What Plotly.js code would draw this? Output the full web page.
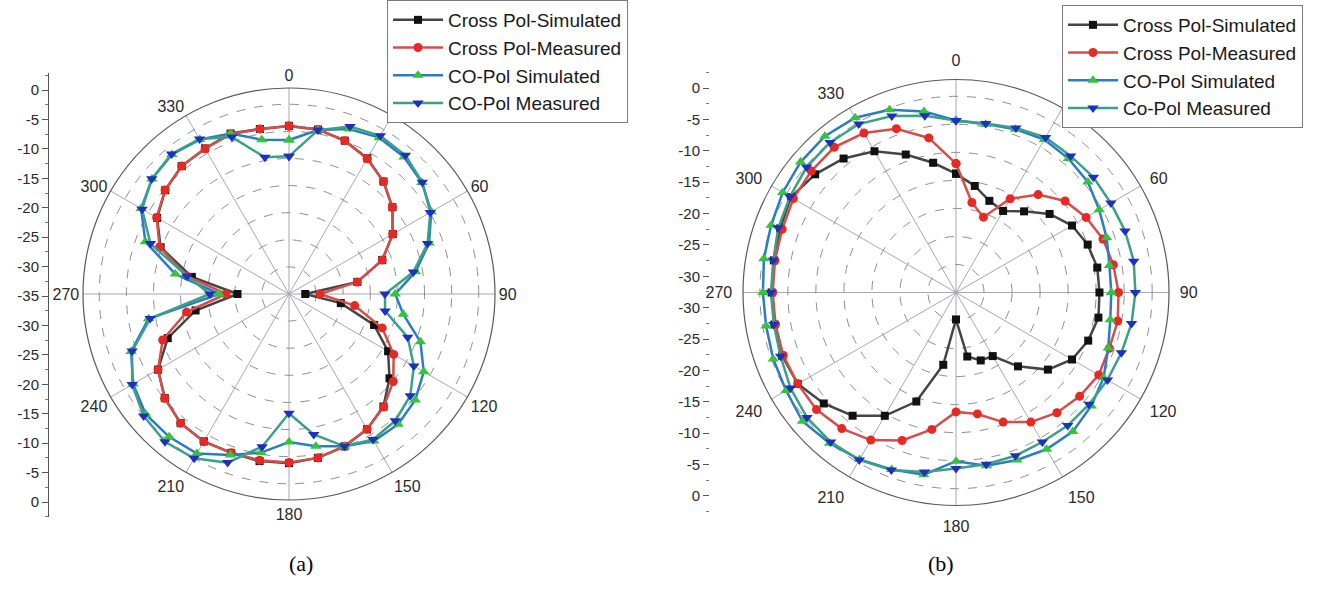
<!DOCTYPE html>
<html>
<head>
<meta charset="utf-8">
<script src="https://cdn.plot.ly/plotly-3.0.1.min.js"></script>
<style>html,body{margin:0;padding:0;background:#fff;}#chart{width:1317px;height:592px;}</style>
</head>
<body>
<div id="chart"></div>
<script>
// ---------- data ----------
const angles = [0,10,20,30,40,50,60,70,80,90,100,110,120,130,140,150,160,170,180,190,200,210,220,230,240,250,260,270,280,290,300,310,320,330,340,350];
const angleTicks = [0,30,60,90,120,150,180,210,240,270,300,330];

const namesA = ["Cross Pol-Simulated","Cross Pol-Measured","CO-Pol Simulated","CO-Pol Measured"];
const namesB = ["Cross Pol-Simulated","Cross Pol-Measured","CO-Pol Simulated","Co-Pol Measured"];

// (a)
const aCrossSim  = [-4.0,-4.2,-4.9,-6.1,-7.9,-10.1,-12.9,-16.7,-22.2,-32.0,-25.3,-18.3,-13.9,-10.8,-7.9,-6.2,-5.1,-4.3,-3.8,-3.7,-3.8,-3.6,-3.9,-5.1,-7.1,-11.2,-17.5,-25.5,-16.8,-9.8,-6.9,-5.2,-4.2,-4.0,-3.5,-4.1];
const aCrossMeas = [-4.0,-4.2,-4.9,-6.2,-7.9,-10.1,-12.9,-16.7,-22.2,-29.3,-22.7,-16.7,-12.7,-9.9,-7.8,-6.2,-5.1,-4.3,-3.9,-3.85,-3.85,-3.55,-3.9,-5.05,-7.1,-10.2,-15.8,-23.4,-15.8,-9.6,-6.8,-5.15,-4.2,-4.05,-3.6,-4.1];
const aCoSim     = [-6.6,-4.3,-2.6,-1.7,-2.0,-3.0,-4.7,-7.5,-11.3,-15.4,-13.6,-9.2,-6.3,-4.6,-3.65,-3.7,-5.1,-6.5,-7.7,-5.3,-3.4,-1.0,-0.6,-0.5,-1.8,-4.0,-8.7,-22.1,-13.7,-6.8,-3.5,-2.0,-1.4,-2.1,-3.5,-6.1];
const aCoMeas    = [-9.6,-4.3,-2.1,-1.3,-1.6,-2.9,-4.9,-7.8,-11.7,-17.3,-17.0,-11.7,-8.4,-5.8,-4.5,-4.0,-5.1,-8.7,-13.0,-6.4,-1.9,0.0,0.6,0.0,-1.6,-4.2,-9.0,-20.4,-15.9,-7.8,-3.7,-1.95,-1.3,-2.0,-4.2,-9.4];

// (b)
const bCrossSim  = [-13.8,-15.7,-17.6,-18.2,-16.1,-13.2,-11.1,-10.0,-9.4,-9.4,-9.2,-9.9,-11.1,-13.6,-17.8,-21.9,-22.1,-23.4,-30.2,-21.9,-14.3,-9.6,-6.3,-4.2,-2.4,-2.0,-2.1,-2.1,-2.0,-1.6,-1.0,-2.2,-3.8,-5.9,-8.8,-11.5];
const bCrossMeas = [-12.0,-18.7,-20.7,-15.7,-12.2,-9.6,-8.2,-7.1,-6.5,-6.0,-5.7,-5.9,-5.6,-6.2,-7.0,-8.3,-10.4,-13.0,-13.7,-10.2,-6.9,-4.6,-3.3,-2.5,-2.4,-2.2,-2.3,-2.3,-2.2,-2.0,-1.5,-1.3,-1.2,-2.15,-3.9,-7.0];
const bCoSim     = [-4.3,-4.5,-4.0,-3.5,-3.8,-4.3,-5.5,-6.4,-7.2,-7.3,-7.05,-6.1,-4.6,-3.5,-2.6,-2.7,-3.2,-3.6,-4.9,-2.0,-1.4,-0.6,0.1,0.75,0.0,-0.3,-0.6,-0.55,-0.2,0.1,0.7,1.2,1.4,1.0,-0.3,-2.2];
const bCoMeas    = [-4.3,-4.4,-3.75,-3.05,-3.2,-3.0,-3.1,-2.9,-2.8,-3.0,-3.2,-3.6,-3.8,-4.0,-4.0,-4.2,-4.0,-3.9,-3.6,-2.5,-1.3,-0.5,-0.2,-0.3,-0.9,-1.7,-2.0,-2.0,-1.9,-1.25,-0.8,-0.2,-0.05,-0.3,-1.5,-3.0];

// radial scale labels drawn along the left of each plot (top to bottom)
const scaleLabelsA = [0,-5,-10,-15,-20,-25,-30,-35,-30,-25,-20,-15,-10,-5,0];
const scaleLabelsB = [0,-5,-10,-15,-20,-25,-30,-30,-25,-20,-15,-10,-5,0];

// ---------- styles ----------
const styles = [
  {line:'#454545', marker:'#111111', symbol:'square', size:8},
  {line:'#d2504b', marker:'#e52a25', symbol:'circle', size:9},
  {line:'#2c7cc2', marker:'#33c43c', symbol:'triangle-up', size:10},
  {line:'#3aa088', marker:'#1f30ba', symbol:'triangle-down', size:10}
];

const W = 1317, H = 592;
const FONT = 'Arial, "Liberation Sans", sans-serif';

function closeLoop(a){ return a.concat([a[0]]); }
const thetaClosed = closeLoop(angles).map((v,i,arr)=> i===arr.length-1 ? 360 : v);

function makeTraces(seriesList, names, subplot, legend){
  return seriesList.map((r,i)=>({
    type:'scatterpolar', mode:'lines+markers',
    r: closeLoop(r), theta: thetaClosed,
    name: names[i], subplot: subplot, legend: legend, legendgroup: legend+'_'+i,
    line:{color:styles[i].line, width:2.5},
    marker:{color:styles[i].marker, symbol:styles[i].symbol, size:styles[i].size, line:{width:0}},
    hoverinfo:'skip'
  }));
}

const traces = [].concat(
  makeTraces([aCrossSim,aCrossMeas,aCoSim,aCoMeas], namesA, 'polar', 'legend'),
  makeTraces([bCrossSim,bCrossMeas,bCoSim,bCoMeas], namesB, 'polar2', 'legend2'),
  [{type:'scatter', x:[], y:[], xaxis:'x', yaxis:'y', showlegend:false, hoverinfo:'skip'},
   {type:'scatter', x:[], y:[], xaxis:'x', yaxis:'y2', showlegend:false, hoverinfo:'skip'}]
);

// polar domain from centre/radius in px
function domainFor(cx, cy, r){
  return {x:[(cx-r)/W,(cx+r)/W], y:[(H-(cy+r))/H,(H-(cy-r))/H]};
}
function polarLayout(dom, tlen){
  return {
    domain: dom, bgcolor:'#ffffff',
    angularaxis:{rotation:90, direction:'clockwise', tickmode:'array', tickvals:angleTicks,
      ticktext:angleTicks.map(String),
      tickfont:{family:FONT, size:16, color:'#2a2a2a'},
      ticks:tlen>0?'outside':'', ticklen:tlen, tickcolor:'rgba(0,0,0,0)',
      showline:true, linecolor:'#5a5a5a', linewidth:1.2,
      showgrid:true, gridcolor:'#a8a8b0', gridwidth:1},
    radialaxis:{range:[-35,3], tickmode:'linear', tick0:-35, dtick:5, showticklabels:false, ticks:'',
      showline:false, showgrid:true, gridcolor:'#8e8e98', gridwidth:1, griddash:'dash'}
  };
}

function scaleAxis(labels, pos, topPx, botPx, firstPx, stepPx, showline){
  const lo = (topPx-firstPx)/stepPx, hi = (botPx-firstPx)/stepPx;
  return {
    anchor:'free', position:pos, side:'left', domain:[(H-botPx)/H,(H-topPx)/H],
    range:[hi, lo], tickmode:'array', tickvals:labels.map((_,i)=>i), ticktext:labels.map(String),
    ticks:'outside', ticklen:6, tickcolor:'#555', tickwidth:1,
    minor:{tickmode:'linear', tick0:-0.5, dtick:1, ticks:'outside', ticklen:3, tickcolor:'#777', showgrid:false},
    showline:showline, linecolor:'#555', linewidth:1,
    showgrid:false, zeroline:false, fixedrange:true,
    tickfont:{family:FONT, size:15, color:'#2a2a2a'}
  };
}

const legendCommon = {
  xanchor:'left', yanchor:'top', bgcolor:'#ffffff', bordercolor:'#7a7a7a', borderwidth:1,
  font:{family:FONT, size:19, color:'#1a1a1a'}, tracegroupgap:0, itemwidth:50,
  traceorder:'normal'
};

const layout = {
  width:W, height:H, margin:{l:0,r:0,t:0,b:0},
  paper_bgcolor:'#ffffff', plot_bgcolor:'rgba(0,0,0,0)',
  font:{family:FONT, color:'#222'},
  showlegend:true,
  polar: polarLayout(domainFor(289, 294, 206), 0),
  polar2: polarLayout(domainFor(956, 292.5, 213), 7),
  xaxis:{domain:[0,0.005], visible:false, range:[0,1], fixedrange:true},
  yaxis: scaleAxis(scaleLabelsA, 48/W, 73, 517, 90, 29.43, true),
  yaxis2: scaleAxis(scaleLabelsB, 709/W, 72, 512, 88, 31.38, false),
  legend: Object.assign({}, legendCommon, {x:387/W, y:1.0}),
  legend2: Object.assign({}, legendCommon, {x:1062/W, y:1-5/H}),
  annotations:[
    {text:'(a)', xref:'paper', yref:'paper', x:287/W, y:(H-578)/H, showarrow:false,
     font:{family:'"Liberation Serif","Times New Roman",serif', size:22, color:'#000'}},
    {text:'(b)', xref:'paper', yref:'paper', x:956/W, y:(H-578)/H, showarrow:false,
     font:{family:'"Liberation Serif","Times New Roman",serif', size:22, color:'#000'}}
  ]
};

Plotly.newPlot('chart', traces, layout, {displayModeBar:false, staticPlot:true});
</script>
</body>
</html>
